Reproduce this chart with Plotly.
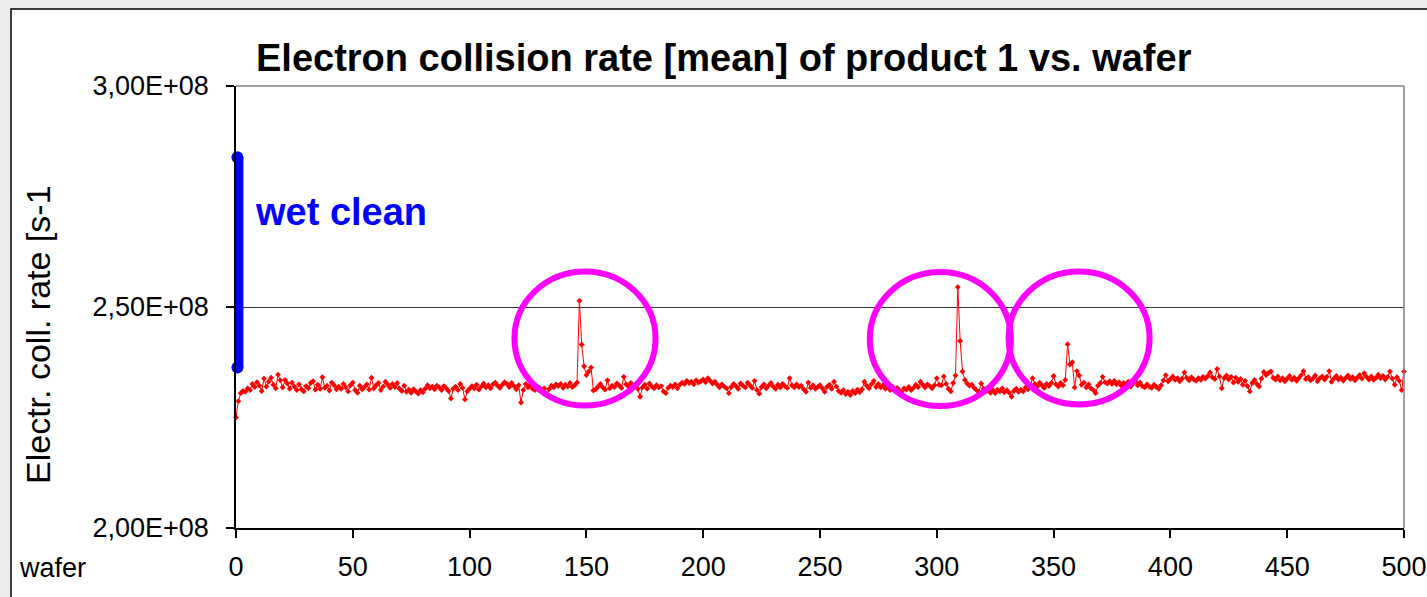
import plotly.graph_objects as go

# ---------------- data ----------------
# mean electron collision rate per wafer, in units of 1e6 s^-1
rate_millions = [
    225.0, 228.7, 230.5, 231.0, 230.8, 231.6, 231.2, 232.6, 231.9, 233.0, 232.2, 231.0, 233.8, 232.0, 233.1, 234.0, 232.4, 231.6, 234.7, 233.4, 231.8, 233.5, 232.7, 231.5, 232.9,
    232.0, 231.2, 232.5, 231.4, 230.9, 232.1, 231.6, 232.8, 233.2, 231.3, 232.4, 231.5, 234.1, 231.7, 232.2, 231.1, 232.9, 232.3, 231.4, 232.0, 231.5, 232.6, 231.8, 230.9, 232.3,
    232.9, 231.2, 230.6, 232.2, 231.4, 231.9, 232.5, 231.3, 234.0, 231.6, 232.3, 232.8, 231.2, 232.0, 233.1, 232.4, 231.7, 232.6, 231.9, 232.8, 231.5, 231.0, 232.2, 230.8, 231.3,
    230.6, 231.4, 230.9, 230.4, 231.2, 230.7, 231.5, 232.3, 231.6, 232.0, 231.4, 232.2, 231.8, 231.2, 232.1, 231.6, 231.0, 229.3, 231.5, 232.0, 231.2, 232.6, 231.7, 229.1, 230.9,
    231.5, 232.1, 231.6, 232.4, 231.3, 232.0, 232.7, 231.8, 232.3, 231.6, 232.5, 232.9, 232.2, 231.7, 232.4, 233.0, 232.6, 231.9, 232.8, 232.1, 231.4, 232.3, 228.4, 231.2, 232.6,
    231.8, 232.4, 231.5, 231.2, 232.0, 231.7, 231.1, 231.6, 230.4, 231.4, 232.2, 231.8, 232.5, 232.1, 232.6, 231.7, 232.4, 232.0, 232.8, 231.9, 232.3, 232.9, 251.4, 241.5, 236.6,
    234.6, 235.4, 236.3, 231.1, 231.4, 232.0, 232.6, 231.8, 231.3, 233.4, 231.6, 232.2, 231.9, 232.7, 232.3, 231.7, 234.2, 232.5, 232.0, 232.8, 231.6, 232.3, 231.5, 229.7, 231.8,
    232.4, 231.5, 232.7, 232.0, 231.6, 232.3, 231.8, 232.1, 230.9, 230.5, 231.7, 232.2, 231.9, 232.5, 231.6, 232.4, 232.9, 232.6, 233.3, 232.8, 233.1, 232.5, 233.4, 232.9, 233.2,
    233.6, 233.0, 233.9, 233.3, 232.7, 233.1, 232.4, 231.8, 232.5, 232.0, 231.6, 230.5, 231.9, 232.6, 232.1, 231.5, 232.7, 232.2, 231.8, 232.9, 232.3, 231.7, 233.3, 231.2, 230.4,
    231.9, 232.5, 231.6, 232.2, 232.8, 232.0, 231.5, 232.4, 231.8, 232.6, 232.1, 231.7, 233.9, 232.3, 231.8, 232.5, 231.9, 232.2, 231.4, 230.8, 232.9, 231.7, 232.3, 231.5, 231.9,
    232.3, 231.6, 230.8, 231.9, 232.4, 231.5, 233.1, 232.0, 231.0, 230.6, 231.2, 230.3, 230.8, 230.1, 231.0, 230.5, 231.3, 230.7, 231.4, 233.1, 232.2, 231.6, 232.5, 233.3, 231.9,
    232.6, 231.8, 232.3, 231.5, 231.9, 231.2, 232.0, 231.4, 231.7, 231.1, 230.8, 231.6, 231.3, 231.9, 231.2, 231.7, 232.4, 231.9, 233.1, 232.4, 231.8, 232.5, 232.1, 231.6, 232.3,
    233.9, 232.4, 232.3, 234.3, 232.6, 231.5, 230.9, 232.8, 234.5, 254.5, 242.3, 235.4, 233.5, 232.7, 232.2, 232.4, 231.7, 231.2, 230.8, 232.7, 231.5, 230.9, 231.4, 230.6, 231.2,
    230.5, 231.3, 230.9, 231.6, 230.7, 231.2, 230.6, 229.7, 231.0, 231.5, 230.8, 231.3, 230.9, 231.8, 231.4, 232.2, 233.9, 232.6, 232.0, 232.9, 232.3, 231.7, 232.6, 232.1, 232.8,
    234.4, 232.5, 232.0, 232.8, 232.3, 233.5, 241.6, 237.0, 237.5, 231.8, 235.5, 234.5, 232.4, 232.9, 231.8, 232.5, 231.6, 231.2, 230.5, 232.2, 232.8, 234.2, 233.0, 232.7, 233.2,
    232.6, 233.3, 232.5, 233.0, 232.2, 232.8, 232.4, 233.1, 232.0, 232.7, 233.2, 232.3, 232.9, 232.1, 231.8, 232.5, 232.0, 231.7, 232.4, 231.9, 231.5, 232.3, 233.4, 234.6, 233.2,
    233.7, 234.3, 233.5, 233.9, 233.2, 233.8, 235.2, 234.0, 233.4, 234.1, 233.6, 233.3, 233.9, 233.5, 234.2, 233.8, 234.4, 235.2, 234.1, 233.7, 236.0, 234.3, 231.6, 233.9, 234.5,
    233.6, 234.2, 232.9, 234.0, 233.1, 233.7, 232.4, 233.3, 232.1, 230.9, 232.8, 233.5, 232.6, 232.0, 233.8, 235.3, 234.6, 235.1, 235.4, 234.0, 233.6, 234.3, 233.4, 233.9, 233.2,
    233.8, 234.4, 233.5, 234.0, 233.3, 233.9, 234.6, 235.5, 233.7, 234.1, 233.4, 233.8, 234.5, 233.2, 233.9, 234.3, 233.6, 234.2, 235.5, 233.1, 233.8, 234.4, 233.6, 234.0, 233.3,
    233.9, 234.5, 233.7, 234.1, 233.4, 234.0, 234.6, 233.8, 235.0, 234.2, 233.6, 234.3, 233.5, 234.0, 234.7, 233.9, 234.4, 233.6, 234.2, 235.4, 233.8, 232.4, 234.1, 233.3, 231.2, 235.4,
]
wafers = list(range(len(rate_millions)))
rate = [v * 1e6 for v in rate_millions]

x_ticks = [0, 50, 100, 150, 200, 250, 300, 350, 400, 450, 500]
y_ticks = [2.0e8, 2.5e8, 3.0e8]
y_tick_labels = ["2,00E+08", "2,50E+08", "3,00E+08"]

# wet-clean event marker (wafer, rate range)
wet_clean_x = [0.6, 0.6]
wet_clean_y = [2.839e8, 2.363e8]

# highlighted excursions (wafer range, rate range)
circles = [
    (119.2, 179.6, 2.2771e8, 2.5803e8),
    (271.3, 331.7, 2.2760e8, 2.5792e8),
    (330.7, 391.1, 2.2794e8, 2.5803e8),
]

FONT = "Liberation Sans, Arial, sans-serif"

fig = go.Figure()

fig.add_trace(go.Scatter(
    x=wafers, y=rate, mode="lines+markers",
    line=dict(color="#ff0000", width=1),
    marker=dict(symbol="diamond", size=4.5, color="#ff0000"),
    showlegend=False, cliponaxis=False,
))

fig.add_trace(go.Scatter(
    x=wet_clean_x, y=wet_clean_y, mode="lines+markers",
    line=dict(color="#0000ff", width=12),
    marker=dict(symbol="circle", size=12, color="#0000ff"),
    showlegend=False, cliponaxis=False,
))

shapes = []
# white panel with black top/left border
shapes.append(dict(type="rect", xref="paper", yref="paper",
                   x0=(11 - 236) / 1168, x1=(1440 - 236) / 1168,
                   y0=(528 - 610) / 442, y1=(528 - 9) / 442,
                   line=dict(color="black", width=1.5), fillcolor="white", layer="below"))
# plot area frame (top & right, grey)
shapes.append(dict(type="line", xref="paper", yref="paper", x0=0, x1=1, y0=1, y1=1,
                   line=dict(color="#808080", width=1.5)))
shapes.append(dict(type="line", xref="paper", yref="paper", x0=1, x1=1, y0=0, y1=1,
                   line=dict(color="#808080", width=1.5)))
for (x0, x1, y0, y1) in circles:
    shapes.append(dict(type="circle", xref="x", yref="y", x0=x0, x1=x1, y0=y0, y1=y1,
                       line=dict(color="#ff00ff", width=6)))

annotations = [
    dict(text="<b>Electron collision rate [mean] of product 1 vs. wafer</b>",
         xref="paper", yref="paper", x=(724 - 236) / 1168, y=(528 - 58) / 442,
         xanchor="center", yanchor="middle", showarrow=False,
         font=dict(family=FONT, size=38, color="black")),
    dict(text="Electr. coll. rate [s-1", xref="paper", yref="paper",
         x=(38 - 236) / 1168, y=(528 - 335) / 442, textangle=-90,
         xanchor="center", yanchor="middle", showarrow=False,
         font=dict(family=FONT, size=34, color="black")),
    dict(text="<b>wet clean</b>", xref="paper", yref="paper",
         x=(253 - 236) / 1168, y=(528 - 212) / 442,
         xanchor="left", yanchor="middle", showarrow=False,
         font=dict(family=FONT, size=38, color="#0000ff")),
    dict(text="wafer", xref="paper", yref="paper",
         x=(17 - 236) / 1168, y=(528 - 568) / 442,
         xanchor="left", yanchor="middle", showarrow=False,
         font=dict(family=FONT, size=27, color="black")),
]

fig.update_layout(
    width=1427, height=597,
    margin=dict(l=236, r=23, t=86, b=69, autoexpand=False),
    paper_bgcolor="#ebebeb", plot_bgcolor="rgba(0,0,0,0)",
    shapes=shapes, annotations=annotations,
    font=dict(family=FONT, size=27, color="black"),
)
fig.update_xaxes(
    range=[0, 500], tickvals=x_ticks, ticks="outside", ticklen=8, tickwidth=1.5,
    tickcolor="black", showline=True, linecolor="black", linewidth=1.5,
    showgrid=False, zeroline=False, ticklabelstandoff=6, automargin=False,
    tickfont=dict(family=FONT, size=27, color="black"),
)
fig.update_yaxes(
    range=[2.0e8, 3.0e8], tickvals=y_ticks, ticktext=y_tick_labels,
    ticks="outside", ticklen=8, tickwidth=1.5, tickcolor="black",
    showline=True, linecolor="black", linewidth=1.5,
    showgrid=True, gridcolor="#333333", gridwidth=1, zeroline=False,
    ticklabelstandoff=12, automargin=False,
    tickfont=dict(family=FONT, size=27, color="black"),
)

fig.write_html(
    "out.html",
    config={"displayModeBar": False},
    post_script="document.body.style.margin='0';document.body.style.background='#ebebeb';",
)
